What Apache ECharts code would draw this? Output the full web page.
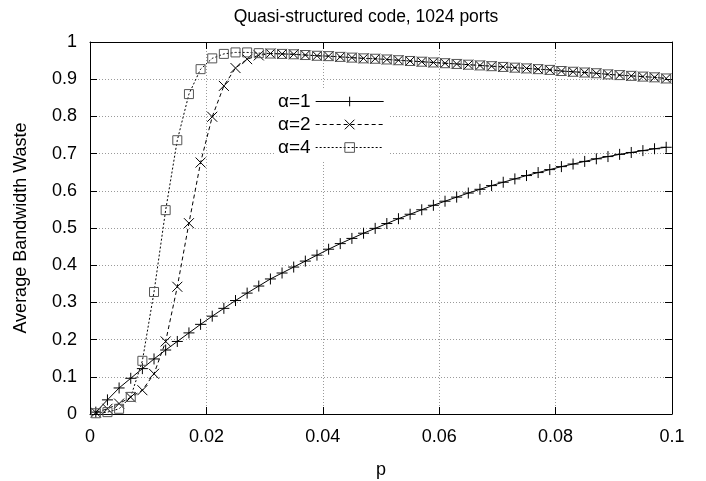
<!DOCTYPE html>
<html>
<head>
<meta charset="utf-8">
<script src="https://cdn.jsdelivr.net/npm/echarts@6/dist/echarts.min.js"></script>
<style>
html,body{margin:0;padding:0;background:#fff;}
#chart{width:706px;height:481px;}
</style>
</head>
<body>
<div id="chart"></div>
<script>
// ---- data ----
const pValues = [0.001,0.003,0.005,0.007,0.009,0.011,0.013,0.015,0.017,0.019,
  0.021,0.023,0.025,0.027,0.029,0.031,0.033,0.035,0.037,0.039,
  0.041,0.043,0.045,0.047,0.049,0.051,0.053,0.055,0.057,0.059,
  0.061,0.063,0.065,0.067,0.069,0.071,0.073,0.075,0.077,0.079,
  0.081,0.083,0.085,0.087,0.089,0.091,0.093,0.095,0.097,0.099];

const alpha1 = [0.005,0.038,0.070,0.096,0.122,0.148,0.172,0.195,0.218,0.241,
  0.263,0.284,0.305,0.325,0.344,0.363,0.379,0.395,0.411,0.427,
  0.443,0.458,0.472,0.486,0.499,0.512,0.525,0.537,0.549,0.561,
  0.572,0.583,0.594,0.604,0.614,0.623,0.632,0.641,0.649,0.657,
  0.665,0.672,0.679,0.686,0.692,0.698,0.703,0.708,0.713,0.717];

const alpha2 = [0.004,0.014,0.028,0.045,0.064,0.108,0.195,0.342,0.513,0.676,
  0.799,0.882,0.930,0.954,0.964,0.969,0.968,0.967,0.965,0.963,
  0.962,0.960,0.958,0.956,0.955,0.953,0.951,0.949,0.947,0.945,
  0.943,0.941,0.939,0.937,0.935,0.933,0.931,0.929,0.927,0.925,
  0.922,0.920,0.918,0.916,0.913,0.911,0.909,0.907,0.905,0.902];

const alpha4 = [0.002,0.005,0.014,0.046,0.143,0.328,0.548,0.736,0.860,0.927,
  0.956,0.968,0.972,0.972,0.970,0.969,0.968,0.967,0.965,0.963,
  0.962,0.960,0.958,0.956,0.955,0.953,0.951,0.949,0.947,0.945,
  0.943,0.941,0.939,0.937,0.935,0.933,0.931,0.929,0.927,0.925,
  0.922,0.920,0.918,0.916,0.913,0.911,0.909,0.907,0.905,0.902];

const seriesNames = ['\u03b1=1','\u03b1=2','\u03b1=4'];
const xTickLabels = ['0','0.02','0.04','0.06','0.08','0.1'];
const yTickLabels = ['0','0.1','0.2','0.3','0.4','0.5','0.6','0.7','0.8','0.9','1'];

const FONT = 'Liberation Sans, Arial, Helvetica, sans-serif';
const pair = arr => pValues.map((p, i) => [p, arr[i]]);

const gridLine = {show: true, lineStyle: {color: '#9a9a9a', type: [1, 2], width: 1}};
const axLine = {show: true, onZero: false, lineStyle: {color: '#000', width: 1}};
const tickIn = {show: true, inside: true, length: 7, lineStyle: {color: '#000', width: 1}};

const chart = echarts.init(document.getElementById('chart'), null, {renderer: 'canvas'});
chart.setOption({
  backgroundColor: '#fff',
  animation: false,
  title: {
    text: 'Quasi-structured code, 1024 ports',
    left: 361, top: 3, textAlign: 'center',
    textStyle: {fontFamily: FONT, fontSize: 17.5, fontWeight: 'normal', color: '#000'}
  },
  grid: {left: 90, right: 34, top: 42, bottom: 67, containLabel: false, outerBoundsMode: 'none'},
  legend: {
    orient: 'vertical',
    left: 274, top: 89,
    align: 'right',
    itemWidth: 68, itemHeight: 12, itemGap: 4,
    backgroundColor: '#fff',
    padding: [3, 4, 3, 4],
    lineStyle: {width: 1},
    itemStyle: {borderWidth: 1},
    textStyle: {fontFamily: FONT, fontSize: 19, color: '#000'},
    data: seriesNames
  },
  xAxis: [{
    type: 'value', min: 0, max: 0.1, interval: 0.02, position: 'bottom',
    name: 'p', nameLocation: 'middle', nameGap: 47,
    nameTextStyle: {fontFamily: FONT, fontSize: 18, color: '#000'},
    axisLine: axLine, axisTick: tickIn, splitLine: gridLine,
    axisLabel: {fontFamily: FONT, fontSize: 18, color: '#000', margin: 14,
      formatter: v => xTickLabels[Math.round(v / 0.02)]}
  }, {
    type: 'value', min: 0, max: 0.1, interval: 0.02, position: 'top',
    axisLine: axLine, axisTick: tickIn, splitLine: {show: false}, axisLabel: {show: false}
  }],
  yAxis: [{
    type: 'value', min: 0, max: 1, interval: 0.1, position: 'left',
    name: 'Average Bandwidth Waste', nameLocation: 'middle', nameGap: 60, nameRotate: 90,
    nameTextStyle: {fontFamily: FONT, fontSize: 18, color: '#000'},
    axisLine: axLine, axisTick: tickIn, splitLine: gridLine,
    axisLabel: {fontFamily: FONT, fontSize: 18, color: '#000', margin: 13,
      formatter: v => yTickLabels[Math.round(v / 0.1)]}
  }, {
    type: 'value', min: 0, max: 1, interval: 0.1, position: 'right',
    axisLine: axLine, axisTick: tickIn, splitLine: {show: false}, axisLabel: {show: false}
  }],
  series: [{
    name: seriesNames[0], type: 'line', data: pair(alpha1),
    symbol: 'path://M5,0L5,10M0,5L10,5', symbolSize: 11, showAllSymbol: true,
    lineStyle: {color: '#000', width: 1, type: 'solid'},
    itemStyle: {color: 'rgba(0,0,0,0)', borderColor: '#000', borderWidth: 1},
    emphasis: {disabled: true}
  }, {
    name: seriesNames[1], type: 'line', data: pair(alpha2),
    symbol: 'path://M0,0L10,10M10,0L0,10', symbolSize: 10, showAllSymbol: true,
    lineStyle: {color: '#000', width: 1, type: [4, 3]},
    itemStyle: {color: 'rgba(0,0,0,0)', borderColor: '#000', borderWidth: 1},
    emphasis: {disabled: true}
  }, {
    name: seriesNames[2], type: 'line', data: pair(alpha4),
    symbol: 'rect', symbolSize: 9, showAllSymbol: true,
    lineStyle: {color: '#000', width: 1, type: [2, 2]},
    itemStyle: {color: 'rgba(0,0,0,0)', borderColor: '#555', borderWidth: 1},
    emphasis: {disabled: true}
  }]
});
</script>
</body>
</html>
